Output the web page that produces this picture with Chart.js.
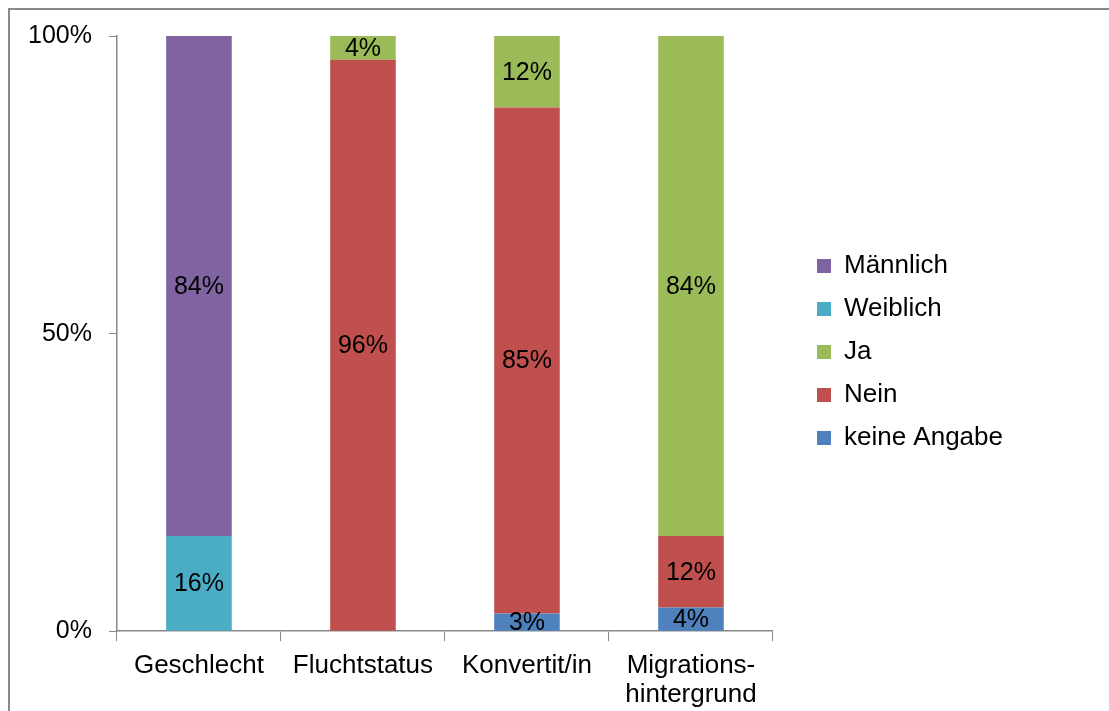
<!DOCTYPE html>
<html>
<head>
<meta charset="utf-8">
<script src="https://cdn.jsdelivr.net/npm/chart.js@4.4.0/dist/chart.umd.min.js"></script>
<style>
  html, body { margin: 0; padding: 0; background: #fff; overflow: hidden; }
  #wrap { position: relative; width: 1109px; height: 711px; }
  #frame { position: absolute; left: 8px; top: 8px; width: 1200px; height: 800px;
           border-left: 2px solid #898989; border-top: 2px solid #898989; pointer-events: none; }
  canvas { position: absolute; left: 0; top: 0; }
</style>
</head>
<body>
<div id="wrap">
  <canvas id="chart" width="1109" height="711"></canvas>
  <div id="frame"></div>
</div>
<script>
const categories = ['Geschlecht', 'Fluchtstatus', 'Konvertit/in', ['Migrations-', 'hintergrund']];
const keineAngabe = [0, 0, 3, 4];
const nein = [0, 96, 85, 12];
const ja = [0, 4, 12, 84];
const weiblich = [16, 0, 0, 0];
const maennlich = [84, 0, 0, 0];
const yTicks = [0, 50, 100];

const FONT = 'Liberation Sans, Arial, sans-serif';
const axisColor = '#898989';

// Prozentwerte mittig in die Segmente schreiben
const segmentLabels = {
  id: 'segmentLabels',
  afterDatasetsDraw(chart) {
    const c = chart.ctx;
    c.save();
    c.font = '25px ' + FONT;
    c.fillStyle = '#000';
    c.textAlign = 'center';
    c.textBaseline = 'middle';
    chart.data.datasets.forEach((ds, i) => {
      const meta = chart.getDatasetMeta(i);
      meta.data.forEach((bar, j) => {
        const v = ds.data[j];
        if (!v) return;
        c.fillText(v + '%', bar.x, (bar.y + bar.base) / 2 + 1);
      });
    });
    c.restore();
  }
};

// Legende etwas weiter weg vom Diagramm und etwas hoeher
const legendShift = {
  id: 'legendShift',
  afterLayout(chart) {
    const lg = chart.legend;
    if (!lg) return;
    lg.left += 27;
    lg.right += 27;
    lg.top -= 26;
    lg.bottom -= 26;
  }
};

const ctx = document.getElementById('chart');
new Chart(ctx, {
  type: 'bar',
  data: {
    labels: categories,
    datasets: [
      { label: 'keine Angabe', data: keineAngabe, backgroundColor: '#4F81BD' },
      { label: 'Nein', data: nein, backgroundColor: '#C0504D' },
      { label: 'Ja', data: ja, backgroundColor: '#9BBB59' },
      { label: 'Weiblich', data: weiblich, backgroundColor: '#4BACC6' },
      { label: 'Männlich', data: maennlich, backgroundColor: '#8064A2' }
    ]
  },
  options: {
    responsive: false,
    animation: false,
    categoryPercentage: 1,
    barPercentage: 0.4,
    layout: { padding: { left: 11, top: 36, right: 123, bottom: -9 } },
    scales: {
      x: {
        stacked: true,
        grid: { drawOnChartArea: false, offset: true, tickLength: 10, color: axisColor },
        border: { color: axisColor, width: 1.5 },
        ticks: { color: '#000', font: { family: FONT, size: 26, lineHeight: 1.13 }, padding: 10, maxRotation: 0 }
      },
      y: {
        stacked: true,
        min: 0,
        max: 100,
        afterBuildTicks(axis) { axis.ticks = yTicks.map(v => ({ value: v })); },
        grid: { drawOnChartArea: false, tickLength: 8, color: axisColor },
        border: { color: axisColor, width: 1.5 },
        ticks: { color: '#000', font: { family: FONT, size: 25 }, padding: 17, callback: v => v + '%' }
      }
    },
    plugins: {
      tooltip: { enabled: false },
      legend: {
        position: 'right',
        reverse: true,
        labels: {
          color: '#000',
          font: { family: FONT, size: 26 },
          boxWidth: 14,
          boxHeight: 14,
          padding: 17
        }
      }
    }
  },
  plugins: [segmentLabels, legendShift]
});
</script>
</body>
</html>
